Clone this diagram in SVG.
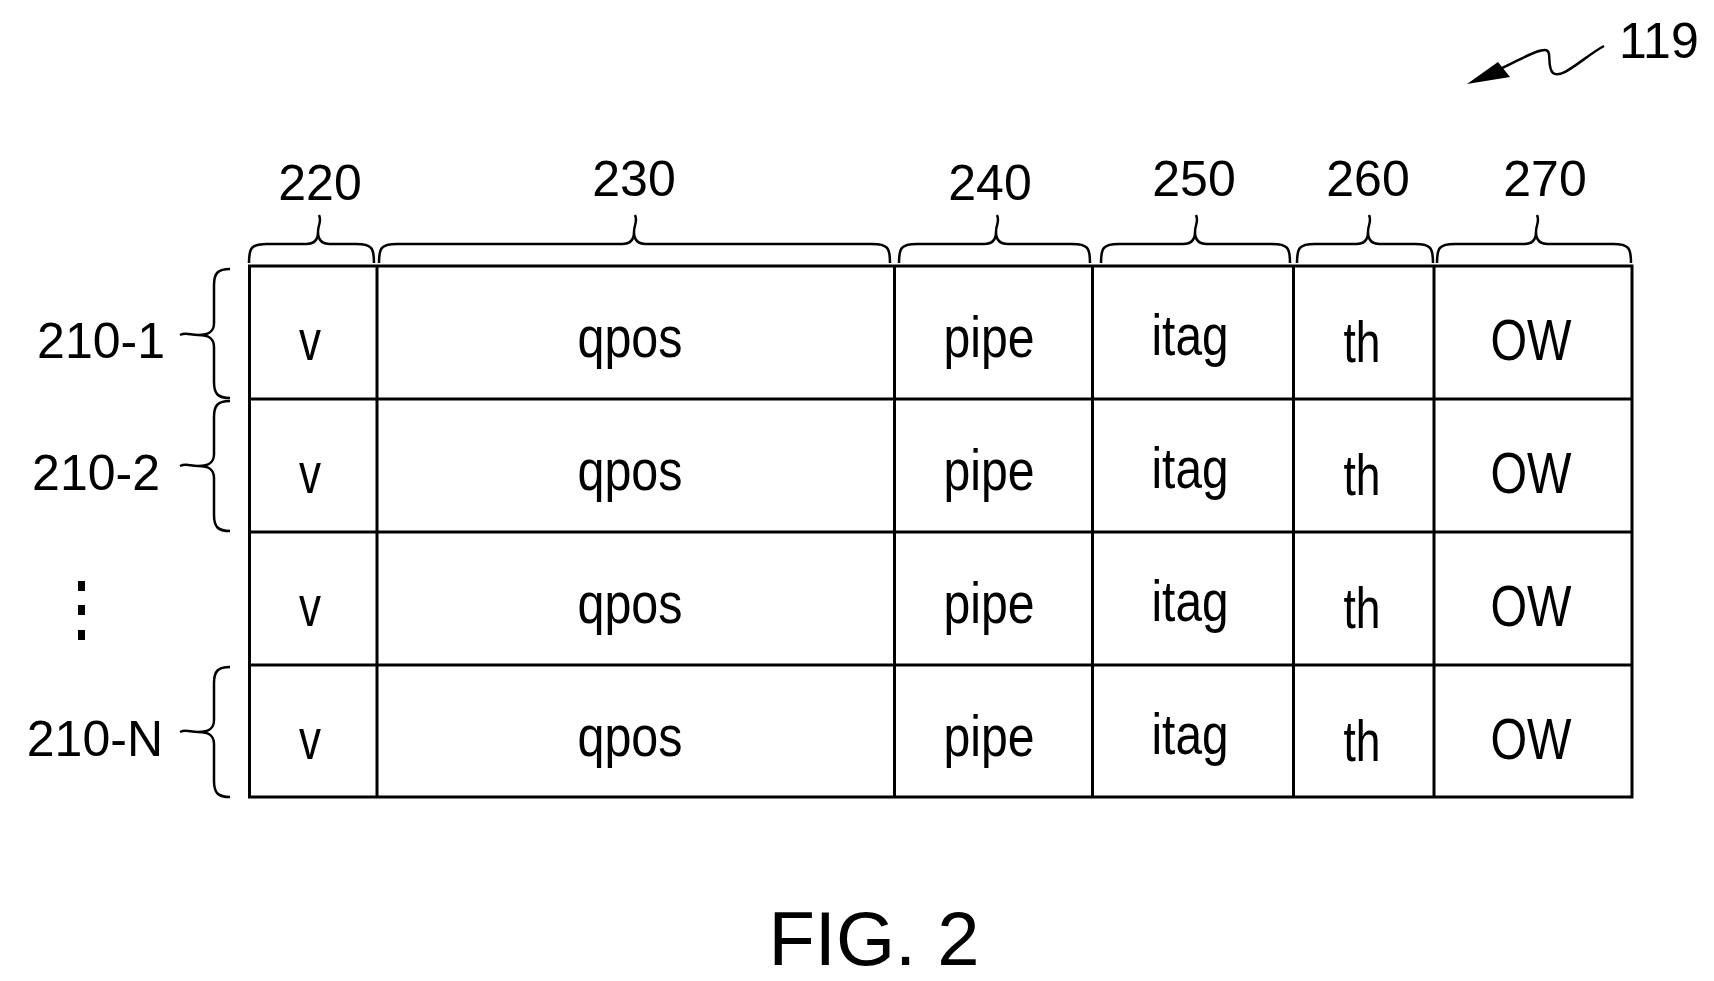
<svg xmlns="http://www.w3.org/2000/svg" width="1714" height="981" viewBox="0 0 1714 981">
<style>
.ln{stroke:#000;stroke-width:3;fill:none}
.br{stroke:#000;stroke-width:2.5;fill:none}
.c{font-family:"Liberation Sans",Arial,sans-serif;font-size:58px;text-anchor:middle}
.l{font-family:"Liberation Sans",Arial,sans-serif;font-size:50px;text-anchor:middle}
</style>
<rect width="1714" height="981" fill="#fff"/>
<g id="table">
<rect x="249.5" y="266" width="1382.5" height="531" class="ln"/>
<path class="ln" d="M377 266V797M894.5 266V797M1092.5 266V797M1293.5 266V797M1434 266V797M249.5 399H1632M249.5 532H1632M249.5 665H1632"/>
</g>
<g id="cells">
<g id="row1"><text class="c" x="310" y="360" textLength="22" lengthAdjust="spacingAndGlyphs">v</text><text class="c" x="630" y="357" textLength="105" lengthAdjust="spacingAndGlyphs">qpos</text><text class="c" x="989" y="357" textLength="91" lengthAdjust="spacingAndGlyphs">pipe</text><text class="c" x="1190" y="355" textLength="77" lengthAdjust="spacingAndGlyphs">itag</text><text class="c" x="1362" y="362" textLength="37" lengthAdjust="spacingAndGlyphs">th</text><text class="c" x="1531" y="360" textLength="81" lengthAdjust="spacingAndGlyphs">OW</text></g>
<g id="row2"><text class="c" x="310" y="493" textLength="22" lengthAdjust="spacingAndGlyphs">v</text><text class="c" x="630" y="490" textLength="105" lengthAdjust="spacingAndGlyphs">qpos</text><text class="c" x="989" y="490" textLength="91" lengthAdjust="spacingAndGlyphs">pipe</text><text class="c" x="1190" y="488" textLength="77" lengthAdjust="spacingAndGlyphs">itag</text><text class="c" x="1362" y="495" textLength="37" lengthAdjust="spacingAndGlyphs">th</text><text class="c" x="1531" y="493" textLength="81" lengthAdjust="spacingAndGlyphs">OW</text></g>
<g id="row3"><text class="c" x="310" y="626" textLength="22" lengthAdjust="spacingAndGlyphs">v</text><text class="c" x="630" y="623" textLength="105" lengthAdjust="spacingAndGlyphs">qpos</text><text class="c" x="989" y="623" textLength="91" lengthAdjust="spacingAndGlyphs">pipe</text><text class="c" x="1190" y="621" textLength="77" lengthAdjust="spacingAndGlyphs">itag</text><text class="c" x="1362" y="628" textLength="37" lengthAdjust="spacingAndGlyphs">th</text><text class="c" x="1531" y="626" textLength="81" lengthAdjust="spacingAndGlyphs">OW</text></g>
<g id="rowN"><text class="c" x="310" y="759" textLength="22" lengthAdjust="spacingAndGlyphs">v</text><text class="c" x="630" y="756" textLength="105" lengthAdjust="spacingAndGlyphs">qpos</text><text class="c" x="989" y="756" textLength="91" lengthAdjust="spacingAndGlyphs">pipe</text><text class="c" x="1190" y="754" textLength="77" lengthAdjust="spacingAndGlyphs">itag</text><text class="c" x="1362" y="761" textLength="37" lengthAdjust="spacingAndGlyphs">th</text><text class="c" x="1531" y="759" textLength="81" lengthAdjust="spacingAndGlyphs">OW</text></g>
</g>
<g id="connectors">
<path class="br" d="M249 263C249 248 251 244 267 244H306C314 244 318 240 318 232C318 224 322 222 319 215M374 263C374 248 372 244 356 244H330C322 244 318 240 318 232"/>
<path class="br" d="M379 263C379 248 381 244 397 244H622C630 244 634 240 634 232C634 224 638 222 635 215M890 263C890 248 888 244 872 244H646C638 244 634 240 634 232"/>
<path class="br" d="M899 263C899 248 901 244 917 244H984C992 244 996 240 996 232C996 224 1000 222 997 215M1090 263C1090 248 1088 244 1072 244H1008C1000 244 996 240 996 232"/>
<path class="br" d="M1101 263C1101 248 1103 244 1119 244H1183C1191 244 1195 240 1195 232C1195 224 1199 222 1196 215M1290 263C1290 248 1288 244 1272 244H1207C1199 244 1195 240 1195 232"/>
<path class="br" d="M1297 263C1297 248 1299 244 1315 244H1356C1364 244 1368 240 1368 232C1368 224 1372 222 1369 215M1433 263C1433 248 1431 244 1415 244H1380C1372 244 1368 240 1368 232"/>
<path class="br" d="M1437 263C1437 248 1439 244 1455 244H1524C1532 244 1536 240 1536 232C1536 224 1540 222 1537 215M1631 263C1631 248 1629 244 1613 244H1548C1540 244 1536 240 1536 232"/>
<path class="br" d="M230 269C218 269 214 273 214 285V323C214 331 210 335 198 335C190 335 186 332 180 335M230 398C218 398 214 394 214 382V347C214 339 210 335 198 335"/>
<path class="br" d="M230 401C218 401 214 405 214 417V454C214 462 210 466 198 466C190 466 186 463 180 466M230 531C218 531 214 527 214 515V478C214 470 210 466 198 466"/>
<path class="br" d="M230 667C218 667 214 671 214 683V720C214 728 210 732 198 732C190 732 186 729 180 732M230 797C218 797 214 793 214 781V744C214 736 210 732 198 732"/>
<path class="br" d="M1604 46C1585 56 1562 80 1553 73C1546 66 1553 50 1545 50C1535 50 1520 60 1498 70"/>
<polygon points="1467,84 1498,62 1510,77"/>
</g>
<g id="labels">
<text class="l" x="320" y="200">220</text>
<text class="l" x="634" y="196">230</text>
<text class="l" x="990" y="200">240</text>
<text class="l" x="1194" y="196">250</text>
<text class="l" x="1368" y="196">260</text>
<text class="l" x="1545" y="196">270</text>
<text class="l" x="1619" y="58" style="text-anchor:start">119</text>
<text class="l" x="165" y="358" style="text-anchor:end">210-1</text>
<text class="l" x="160" y="490" style="text-anchor:end">210-2</text>
<text class="l" x="163" y="756" style="text-anchor:end">210-N</text>
<text x="874" y="965" style="font-family:'Liberation Sans',Arial,sans-serif;font-size:76px;text-anchor:middle">FIG. 2</text>
</g>
<g id="dots"><rect x="78" y="581" width="7" height="10"/><rect x="78" y="605" width="7" height="10"/><rect x="78" y="630" width="7" height="10"/></g>
</svg>
